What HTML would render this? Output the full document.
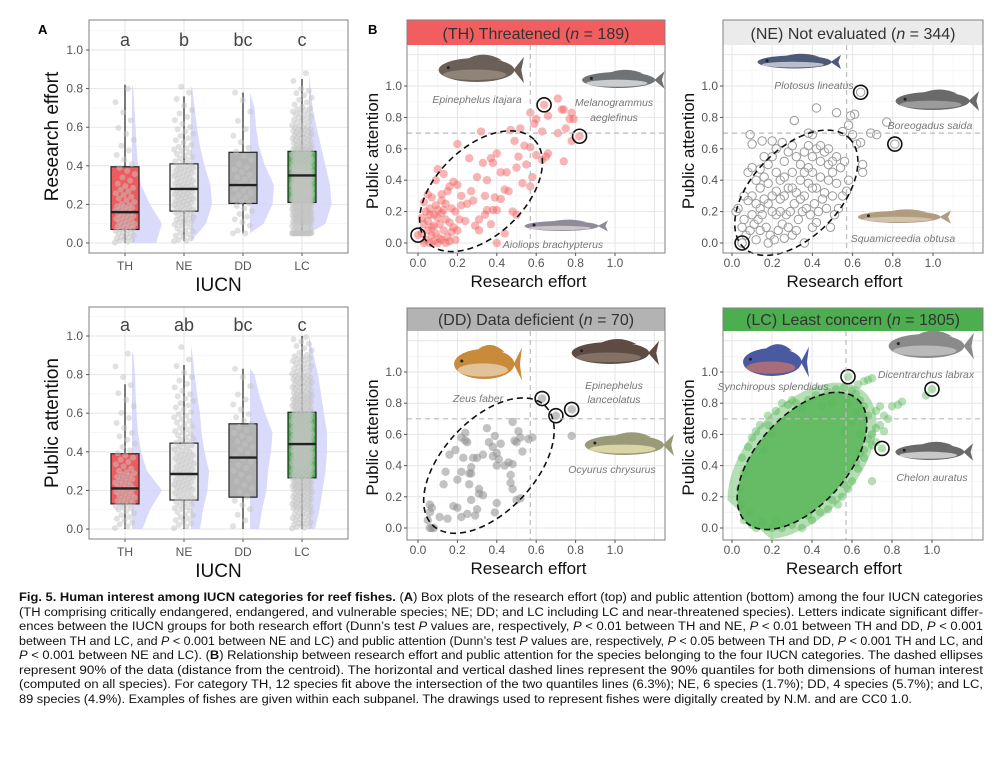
<!DOCTYPE html>
<html><head><meta charset="utf-8"><style>
html,body{margin:0;padding:0;background:#fff;}
svg{display:block;font-family:"Liberation Sans",sans-serif;}
</style></head><body>
<svg id="fig" width="1000" height="757" viewBox="0 0 1000 757">
<text x="38" y="34" font-size="13" font-weight="bold">A</text>
<text x="368" y="34" font-size="13" font-weight="bold">B</text>
<g id="caption" font-family="'Liberation Sans Narrow','Liberation Sans',sans-serif" font-size="12.3" fill="#111">
<text x="19" y="601" textLength="964" lengthAdjust="spacingAndGlyphs"><tspan font-weight="bold">Fig. 5. Human interest among IUCN categories for reef fishes.</tspan> (<tspan font-weight="bold">A</tspan>) Box plots of the research effort (top) and public attention (bottom) among the four IUCN categories</text>
<text x="19" y="616" textLength="964" lengthAdjust="spacingAndGlyphs">(TH comprising critically endangered, endangered, and vulnerable species; NE; DD; and LC including LC and near-threatened species). Letters indicate significant differ-</text>
<text x="19" y="630" textLength="964" lengthAdjust="spacingAndGlyphs">ences between the IUCN groups for both research effort (Dunn’s test <tspan font-style="italic">P</tspan> values are, respectively, <tspan font-style="italic">P</tspan> &lt; 0.01 between TH and NE, <tspan font-style="italic">P</tspan> &lt; 0.01 between TH and DD, <tspan font-style="italic">P</tspan> &lt; 0.001</text>
<text x="19" y="645" textLength="964" lengthAdjust="spacingAndGlyphs">between TH and LC, and <tspan font-style="italic">P</tspan> &lt; 0.001 between NE and LC) and public attention (Dunn’s test <tspan font-style="italic">P</tspan> values are, respectively, <tspan font-style="italic">P</tspan> &lt; 0.05 between TH and DD, <tspan font-style="italic">P</tspan> &lt; 0.001 TH and LC, and</text>
<text x="19" y="659" textLength="964" lengthAdjust="spacingAndGlyphs"><tspan font-style="italic">P</tspan> &lt; 0.001 between NE and LC). (<tspan font-weight="bold">B</tspan>) Relationship between research effort and public attention for the species belonging to the four IUCN categories. The dashed ellipses</text>
<text x="19" y="674" textLength="964" lengthAdjust="spacingAndGlyphs">represent 90% of the data (distance from the centroid). The horizontal and vertical dashed lines represent the 90% quantiles for both dimensions of human interest</text>
<text x="19" y="688" textLength="964" lengthAdjust="spacingAndGlyphs">(computed on all species). For category TH, 12 species fit above the intersection of the two quantiles lines (6.3%); NE, 6 species (1.7%); DD, 4 species (5.7%); and LC,</text>
<text x="19" y="703" textLength="893" lengthAdjust="spacingAndGlyphs">89 species (4.9%). Examples of fishes are given within each subpanel. The drawings used to represent fishes were digitally created by N.M. and are CC0 1.0.</text>
</g>
</svg>
<script>
// ===== Panel A data =====
const categories = ['TH','NE','DD','LC'];
const reLo  = [0.00, 0.01, 0.05, 0.05];
const reQ1  = [0.07, 0.165, 0.205, 0.21];
const reMed = [0.16, 0.28, 0.30, 0.35];
const reQ3  = [0.395, 0.41, 0.47, 0.475];
const reHi  = [0.82, 0.76, 0.78, 0.85];
const reLetters = ['a','b','bc','c'];
const reDensTH = [0.8,1.0,0.6,0.3,0.2,0.15,0.12,0.08,0.04,0,0];
const reDensNE = [0.3,0.5,0.7,0.65,0.45,0.3,0.2,0.12,0.05,0,0];
const reDensDD = [0.2,0.45,0.75,0.8,0.5,0.3,0.2,0.15,0.1,0,0];
const reDensLC = [0.25,0.55,0.75,0.7,0.55,0.4,0.25,0.12,0.05,0,0];
const paLo  = [0.00, 0.00, 0.00, 0.00];
const paQ1  = [0.13, 0.15, 0.165, 0.265];
const paMed = [0.21, 0.285, 0.37, 0.44];
const paQ3  = [0.39, 0.445, 0.545, 0.605];
const paHi  = [0.75, 0.85, 0.83, 1.00];
const paMax = [0.92, 0.95, 0.83, 1.00];
const reMax = [0.82, 0.81, 0.78, 0.88];
const paLetters = ['a','ab','bc','c'];
const paDensTH = [0.35,0.6,1.0,0.5,0.3,0.2,0.15,0.12,0.1,0.05,0];
const paDensNE = [0.3,0.4,0.55,0.6,0.45,0.35,0.3,0.2,0.12,0.05,0];
const paDensDD = [0.3,0.4,0.55,0.6,0.7,0.75,0.5,0.3,0.15,0.05,0];
const paDensLC = [0.2,0.35,0.45,0.55,0.6,0.6,0.5,0.4,0.3,0.15,0.05];
const nPoints = [70,110,40,350];
const yTicks = [0,0.2,0.4,0.6,0.8,1.0];
const yTickLabels = ['0.0','0.2','0.4','0.6','0.8','1.0'];
const xTicks = [0,0.2,0.4,0.6,0.8,1.0];

// ===== Panel B data =====
const thX = [.57,.60,.59,.71,.74,.73,.78,.77,.79,.75,.66,.63,.71,.78,.74,.66,.63,.65,.60,.57,.52,.47,.49,.54,.51,.55,.58,.57,.53,.50,.45,.42,.40,.38,.37,.33,.35,.30,.26,.20,.32,.44,.46,.42,.39,.34,.35,.38,.34,.31,.37,.40,.48,.50,.44,.40,.29,.31,.28,.27,.25,.24,.22,.20,.18,.16,.15,.13,.10,.12,.09,.07,.05,.03,.02,.04,.06,.08,.10,.12,.14,.17,.19,.21,.03,.05,.07,.09,.11,.13,.15,.17,.19,.04,.06,.08,.10,.12,.14,.16,.02,.05,.08,.11,.14,.06,.09,.12,.16,.18,.20,.22,.03,.07,.10,.13];
const thY = [.83,.79,.76,.92,.85,.85,.83,.79,.79,.73,.81,.71,.70,.65,.52,.57,.53,.55,.56,.61,.73,.72,.65,.62,.55,.50,.42,.36,.38,.48,.45,.45,.57,.51,.54,.51,.40,.42,.54,.63,.71,.34,.33,.28,.29,.30,.21,.21,.18,.15,.12,.21,.20,.18,.06,0,.11,.08,.27,.33,.25,.14,.30,.37,.39,.36,.33,.44,.47,.31,.40,.29,.31,.26,.16,.20,.22,.18,.21,.19,.25,.22,.20,.15,.12,.08,.05,.06,.03,.08,.04,.07,.02,.02,0,.01,0,.02,0,.01,.06,.14,.11,.12,.15,.18,.24,.27,.13,.10,.08,.24,0,.10,.16,.21];
const thHX = [0.0, 0.64, 0.82];
const thHY = [0.05, 0.88, 0.68];

const neX = [.42,.52,.61,.59,.31,.77,.58,.69,.72,.55,.60,.40,.38,.09,.10,.15,.20,.25,.62,.64,.65,.65,.02,.03,.06,.36,.40,.42,
 .08,.10,.12,.14,.16,.18,.20,.22,.24,.26,.28,.30,.32,.34,.36,.38,.40,.42,.44,.46,.48,.50,.52,.54,.56,.58,.57,.55,.52,.50,.48,.46,.44,.42,.40,.38,.36,.34,.32,.30,.28,.26,.24,.22,.20,.18,.16,.14,.12,.10,.08,.06,.05,.07,.09,.11,.13,.15,.17,.19,.21,.23,.25,.27,.29,.31,.33,.35,.37,.39,.41,.43,.45,.47,.49,.51,.53,.30,.28,.26,.18,.22,.20,.14,.12,.10,.24,.32,.34,.38,.44,.48,.36,.26,.18,.22,.16,.14,.30,.40,.50];
const neY = [.86,.83,.82,.81,.78,.77,.75,.70,.69,.71,.69,.69,.70,.69,.63,.65,.65,.64,.63,.64,.50,.45,.20,.22,.15,.00,.10,.13,
 .45,.48,.40,.35,.42,.50,.55,.45,.40,.52,.58,.62,.55,.50,.58,.62,.55,.60,.52,.58,.50,.45,.55,.48,.52,.40,.33,.30,.38,.30,.40,.32,.42,.35,.45,.38,.30,.40,.32,.45,.35,.30,.28,.33,.30,.25,.28,.22,.25,.30,.27,.30,.10,.05,.08,.12,.15,.18,.10,.05,.02,.08,.12,.18,.20,.25,.15,.20,.22,.18,.25,.20,.28,.22,.10,.18,.22,.05,.10,.03,.00,.18,.20,.08,.02,.18,.20,.08,.28,.48,.62,.60,.45,.42,.38,.60,.55,.47,.35,.35,.52];
const neHX = [0.64, 0.81, 0.05];
const neHY = [0.96, 0.63, 0.00];

const ddX = [.58,.56,.53,.52,.51,.50,.49,.48,.46,.48,.47,.47,.48,.50,.52,.42,.41,.40,.40,.38,.38,.36,.35,.39,.33,.31,.31,.30,.29,.27,.26,.27,.26,.27,.28,.24,.24,.25,.22,.19,.20,.22,.23,.16,.14,.13,.11,.15,.18,.20,.22,.25,.06,.07,.06,.05,.06,.07,.08,.40,.39,.78,.30,.33,.44];
const ddY = [.58,.57,.49,.58,.62,.55,.56,.68,.42,.41,.34,.29,.25,.18,.19,.54,.44,.48,.40,.46,.52,.55,.64,.59,.47,.25,.22,.12,.08,.18,.28,.35,.35,.39,.45,.61,.56,.55,.58,.50,.31,.36,.45,.47,.36,.28,.07,.06,.14,.13,.07,.09,.15,.13,.10,.05,.00,.00,.00,.16,.10,.59,.45,.21,.40];
const ddHX = [0.63, 0.70, 0.78];
const ddHY = [0.83, 0.72, 0.76];

const lcX = [.97,.85,.83,.80,.74,.72,.76,.78,.74,.72,.76,.70,.68,.72,.70,.66,.64,.66,.62,.63,.70,.60,.58,.55,.53,.48,.44,.40,.35,.30,.25,.20,.12,.10,.06,.05,.04,.06,.05,.08,.10,.12,.14,.18,.22,.28,.30,.25,.32,.38,.42,.48,.52,.56,.60,.63,.66,.68,.70,.62,.64,.66,.68,.62,.58,.60,.64,.56,.20,.18,.16,.45,.50,.35,.09,.15,.22,.38,.50,.56];
const lcY = [.85,.81,.79,.78,.78,.75,.72,.70,.66,.64,.62,.60,.57,.55,.53,.50,.48,.45,.42,.38,.30,.30,.25,.20,.15,.12,.10,.05,.00,.02,.00,.00,.00,.02,.05,.15,.25,.35,.45,.52,.58,.62,.66,.72,.75,.79,.82,.80,.80,.82,.85,.87,.89,.90,.88,.92,.94,.95,.96,.86,.82,.78,.72,.74,.80,.68,.60,.62,.60,.66,.50,.78,.80,.77,.10,.04,.05,.08,.18,.28];
const lcHX = [0.58, 1.0, 0.75];
const lcHY = [0.97, 0.89, 0.51];

const quantX = 0.57;
const quantY = 0.70;

// ===== helpers =====
const NS = 'http://www.w3.org/2000/svg';
const svg = document.getElementById('fig');
function mk(tag, attrs, parent) {
  const e = document.createElementNS(NS, tag);
  for (const k in attrs) e.setAttribute(k, attrs[k]);
  (parent || svg).appendChild(e);
  return e;
}
function txt(s, attrs, parent) { const t = mk('text', attrs, parent); t.textContent = s; return t; }

// ===== Box panels =====
function drawBoxPanel(P, lo, q1, med, q3, hi, mx, dens, letters, yTitle, key) {
  const g = mk('g', {});
  
  
  const yS = v => P.y0 - v * (P.y0 - P.y1);
  const xC = i => P.cx0 + P.dx * i;
  const bg = mk('rect', {x:P.left, y:P.top, width:P.right-P.left, height:P.bottom-P.top, fill:'#fff'}, g);
  
  
  for (let v = 0.1; v < 1.15; v += 0.2) mk('line', {x1:P.left, x2:P.right, y1:yS(v), y2:yS(v), stroke:'#f3f3f3', 'stroke-width':0.7}, g);
  yTicks.forEach(v => mk('line', {x1:P.left, x2:P.right, y1:yS(v), y2:yS(v), stroke:'#e6e6e6', 'stroke-width':1}, g));
  categories.forEach((c, i) => mk('line', {x1:xC(i), x2:xC(i), y1:P.top, y2:P.bottom, stroke:'#e6e6e6', 'stroke-width':1}, g));
  categories.forEach((c, i) => {
    const d = dens[i];
    const base = xC(i) + 7;
    let path = 'M' + base + ',' + yS(lo[i]);
    for (let k = 0; k < d.length; k++) {
      const v = k * 0.1;
      if (v < lo[i] || v >= mx[i]) continue;
      path += ' L' + (base + d[k] * 30).toFixed(1) + ',' + yS(v).toFixed(1);
    }
    path += ' L' + base + ',' + yS(mx[i]) + 'Z';
    const v = mk('path', {d:path, fill:'#d4d4fa', opacity:0.85}, g);
    
    
  });
  const fills = ['#f15a5c','#efefef','#b3b3b3','#4cae4f'];
  categories.forEach((c, i) => {
    const w = mk('line', {x1:xC(i), x2:xC(i), y1:yS(lo[i]), y2:yS(hi[i]), stroke:'#222', 'stroke-width':1.2}, g);
    
    
    const b = mk('rect', {x:xC(i)-14, y:yS(q3[i]), width:28, height:yS(q1[i])-yS(q3[i]), fill:fills[i], stroke:'#222', 'stroke-width':1.2}, g);
    
    
    const d = dens[i];
    let cum = [0];
    for (let k = 1; k < d.length; k++) cum.push(cum[k-1] + (d[k-1] + d[k]) / 2);
    const tot = cum[cum.length-1];
    const N = nPoints[i];
    for (let j = 0; j < N; j++) {
      const p = (j + 0.5) / N * tot;
      let k = 1; while (k < cum.length - 1 && cum[k] < p) k++;
      const f = (p - cum[k-1]) / Math.max(cum[k] - cum[k-1], 1e-6);
      const val = Math.min(mx[i], Math.max(lo[i], (k - 1 + f) * 0.1));
      const jit = (((j * 0.618034) % 1) - 0.5) * 20;
      const pt = mk('circle', {cx:xC(i) + jit, cy:yS(val), r:3, fill:'#c4c4c4', 'fill-opacity':0.5}, g);
      
      
    }
    const m = mk('line', {x1:xC(i)-14, x2:xC(i)+14, y1:yS(med[i]), y2:yS(med[i]), stroke:'#222', 'stroke-width':2.4}, g);
    
    
    const l = txt(letters[i], {x:xC(i), y:P.letterY, 'font-size':18, fill:'#444', 'text-anchor':'middle'}, g);
    
    
    const cl = txt(c, {x:xC(i), y:P.bottom + 17, 'font-size':12, fill:'#555', 'text-anchor':'middle'}, g);
    
    
    mk('line', {x1:xC(i), x2:xC(i), y1:P.bottom, y2:P.bottom+3, stroke:'#555'}, g);
  });
  const br = mk('rect', {x:P.left, y:P.top, width:P.right-P.left, height:P.bottom-P.top, fill:'none', stroke:'#808080', 'stroke-width':1}, g);
  
  
  yTicks.forEach((v, k) => {
    mk('line', {x1:P.left-3, x2:P.left, y1:yS(v), y2:yS(v), stroke:'#555'}, g);
    const t = txt(yTickLabels[k], {x:P.left-6, y:yS(v)+4, 'font-size':12, fill:'#555', 'text-anchor':'end'}, g);
    
    
  });
  const yt = txt(yTitle, {x:0, y:0, 'font-size':19, fill:'#111', 'text-anchor':'middle', transform:'translate(' + (P.left-31) + ',' + ((P.top+P.bottom)/2) + ') rotate(-90)'}, g);
  
  
  const xt = txt('IUCN', {x:(P.left+P.right)/2, y:P.bottom + 38, 'font-size':19, fill:'#111', 'text-anchor':'middle'}, g);
  
  
}
drawBoxPanel({left:89,right:348,top:20,bottom:253,y0:243,y1:50,cx0:125,dx:59,letterY:46},
  reLo, reQ1, reMed, reQ3, reHi, reMax, [reDensTH,reDensNE,reDensDD,reDensLC], reLetters, 'Research effort', 'research-effort');
drawBoxPanel({left:89,right:348,top:307,bottom:539,y0:529,y1:336,cx0:125,dx:59,letterY:331},
  paLo, paQ1, paMed, paQ3, paHi, paMax, [paDensTH,paDensNE,paDensDD,paDensLC], paLetters, 'Public attention', 'public-attention');

// ===== Fish icons =====
function fish(g, cx, cy, w, h, body, belly, name) {
  const f = mk('g', {}, g);
  
  
  mk('path', {d:'M'+(cx+w*0.38)+','+cy+' L'+(cx+w*0.5)+','+(cy-h*0.55)+' L'+(cx+w*0.47)+','+cy+' L'+(cx+w*0.5)+','+(cy+h*0.55)+'Z', fill:body}, f);
  mk('ellipse', {cx:cx-w*0.04, cy:cy, rx:w*0.43, ry:h/2, fill:body}, f);
  mk('ellipse', {cx:cx-w*0.06, cy:cy+h*0.2, rx:w*0.36, ry:h*0.22, fill:belly, opacity:0.8}, f);
  mk('path', {d:'M'+(cx-w*0.15)+','+(cy-h*0.45)+' Q'+(cx+w*0.05)+','+(cy-h*0.85)+' '+(cx+w*0.25)+','+(cy-h*0.4)+'Z', fill:body}, f);
  mk('circle', {cx:cx-w*0.36, cy:cy-h*0.1, r:1.5, fill:'#222'}, f);
}
function label(g, s, x, y, name) {
  const t = txt(s, {x:x, y:y, 'font-size':10.5, 'font-style':'italic', fill:'#777', 'text-anchor':'middle'}, g);
  
  
}

// ===== Scatter panels =====
function drawScatter(P, xs, ys, hx, hy, sty, ell, title, strip, key) {
  const g = mk('g', {});
  
  
  const xS = v => P.x0 + v * (P.x1 - P.x0);
  const yS = v => P.y0 - v * (P.y0 - P.y1);
  const cid = 'clip-' + key;
  const cp = mk('clipPath', {id:cid}, g);
  mk('rect', {x:P.left, y:P.top, width:P.right-P.left, height:P.bottom-P.top}, cp);
  mk('rect', {x:P.left, y:P.top, width:P.right-P.left, height:P.bottom-P.top, fill:'#fff'}, g);
  for (let v = 0.1; v < 1.3; v += 0.2) {
    mk('line', {x1:P.left, x2:P.right, y1:yS(v), y2:yS(v), stroke:'#f3f3f3', 'stroke-width':0.7, 'clip-path':'url(#'+cid+')'}, g);
    mk('line', {x1:xS(v), x2:xS(v), y1:P.top, y2:P.bottom, stroke:'#f3f3f3', 'stroke-width':0.7, 'clip-path':'url(#'+cid+')'}, g);
  }
  for (let v = 0; v < 1.3; v += 0.2) {
    mk('line', {x1:P.left, x2:P.right, y1:yS(v), y2:yS(v), stroke:'#e6e6e6', 'stroke-width':1, 'clip-path':'url(#'+cid+')'}, g);
    mk('line', {x1:xS(v), x2:xS(v), y1:P.top, y2:P.bottom, stroke:'#e6e6e6', 'stroke-width':1, 'clip-path':'url(#'+cid+')'}, g);
  }
  const ecx = xS(ell.cx), ecy = yS(ell.cy);
  if (sty.cloud) {
    const halo = mk('ellipse', {cx:ecx, cy:ecy, rx:ell.a+10, ry:ell.b+10, transform:'rotate('+ell.ang+' '+ecx+' '+ecy+')', fill:sty.cloud, 'fill-opacity':0.45, 'clip-path':'url(#'+cid+')'}, g);
    
    
    const cl = mk('ellipse', {cx:ecx, cy:ecy, rx:ell.a, ry:ell.b, transform:'rotate('+ell.ang+' '+ecx+' '+ecy+')', fill:sty.cloud, 'fill-opacity':0.9}, g);
    
    
  }
  xs.forEach((x, i) => {
    const c = mk('circle', {cx:xS(x), cy:yS(ys[i]), r:4.2, fill:sty.fill, 'fill-opacity':sty.op, stroke:sty.stroke, 'stroke-width':sty.sw}, g);
    
    
  });
  hx.forEach((x, i) => {
    const c = mk('circle', {cx:xS(x), cy:yS(hy[i]), r:4.2, fill:sty.fill, 'fill-opacity':sty.op, stroke:sty.stroke, 'stroke-width':sty.sw}, g);
    
    
    const r = mk('circle', {cx:xS(x), cy:yS(hy[i]), r:7, fill:'none', stroke:'#111', 'stroke-width':1.6}, g);
    
    
  });
  const ql = mk('line', {x1:xS(quantX), x2:xS(quantX), y1:P.top, y2:P.bottom, stroke:'#bbb', 'stroke-width':1.2, 'stroke-dasharray':'5,4'}, g);
  
  
  const qh = mk('line', {x1:P.left, x2:P.right, y1:yS(quantY), y2:yS(quantY), stroke:'#bbb', 'stroke-width':1.2, 'stroke-dasharray':'5,4'}, g);
  
  
  const el = mk('ellipse', {cx:ecx, cy:ecy, rx:ell.a, ry:ell.b, transform:'rotate('+ell.ang+' '+ecx+' '+ecy+')', fill:'none', stroke:'#111', 'stroke-width':1.6, 'stroke-dasharray':'6,4'}, g);
  
  
  const br = mk('rect', {x:P.left, y:P.stripTop, width:P.right-P.left, height:P.bottom-P.stripTop, fill:'none', stroke:'#808080', 'stroke-width':1}, g);
  
  
  const sr = mk('rect', {x:P.left+0.5, y:P.stripTop+0.5, width:P.right-P.left-1, height:P.top-P.stripTop-0.5, fill:strip}, g);
  
  
  const st = mk('text', {x:(P.left+P.right)/2, y:P.top-6, 'font-size':16, fill:'#333', 'text-anchor':'middle'}, g);
  
  
  st.innerHTML = title[0] + ' (<tspan font-style="italic">n</tspan> = ' + title[1] + ')';
  xTicks.forEach((v, k) => {
    mk('line', {x1:P.left-3, x2:P.left, y1:yS(v), y2:yS(v), stroke:'#555'}, g);
    mk('line', {x1:xS(v), x2:xS(v), y1:P.bottom, y2:P.bottom+3, stroke:'#555'}, g);
    const ty = txt(yTickLabels[k], {x:P.left-5, y:yS(v)+4, 'font-size':12, fill:'#555', 'text-anchor':'end'}, g);
    
    
    const tx = txt(yTickLabels[k], {x:xS(v), y:P.bottom+14, 'font-size':12, fill:'#555', 'text-anchor':'middle'}, g);
    
    
  });
  const yt = txt('Public attention', {x:0, y:0, 'font-size':17, fill:'#111', 'text-anchor':'middle', transform:'translate(' + (P.left-29) + ',' + ((P.top+P.bottom)/2 + 2) + ') rotate(-90)'}, g);
  
  
  const xt = txt('Research effort', {x:(P.x0+P.x1)/2 + 12, y:P.bottom + 34, 'font-size':17, fill:'#111', 'text-anchor':'middle'}, g);
  
  
  return g;
}

const gTH = drawScatter({left:407,right:665,stripTop:20,top:45,bottom:253,x0:418,x1:615,y0:243,y1:86},
  thX, thY, thHX, thHY, {fill:'#f25a5c', op:0.45, stroke:'none', sw:0},
  {cx:0.32, cy:0.33, a:74, b:44, ang:-44}, ['(TH) Threatened', '189'], '#f25e60', 'threatened');
fish(gTH, 480, 70, 88, 24, '#6b6058', '#9a8c80', 'fish-epinephelus-itajara');
label(gTH, 'Epinephelus itajara', 477, 103, 'species-label');
fish(gTH, 622, 80, 85, 16, '#6f7378', '#e2e2e2', 'fish-melanogrammus-aeglefinus');
label(gTH, 'Melanogrammus', 614, 106, 'species-label');
label(gTH, 'aeglefinus', 614, 121, 'species-label');
fish(gTH, 565, 226, 86, 10, '#8f8a9c', '#d8d4d0', 'fish-aioliops-brachypterus');
label(gTH, 'Aioliops brachypterus', 553, 248, 'species-label');

const gNE = drawScatter({left:723,right:983,stripTop:20,top:45,bottom:253,x0:732,x1:933,y0:243,y1:86},
  neX, neY, neHX, neHY, {fill:'#ffffff', op:0.2, stroke:'#9a9a9a', sw:1},
  {cx:0.32, cy:0.32, a:76, b:44, ang:-46}, ['(NE) Not evaluated', '344'], '#ebebeb', 'not-evaluated');
fish(gNE, 798, 62, 86, 13, '#4d5a78', '#d6d6e0', 'fish-plotosus-lineatus');
label(gNE, 'Plotosus lineatus', 814, 89, 'species-label');
fish(gNE, 936, 101, 86, 18, '#6a6a6a', '#a8a8a8', 'fish-boreogadus-saida');
label(gNE, 'Boreogadus saida', 930, 129, 'species-label');
fish(gNE, 903, 217, 96, 12, '#b09d80', '#d8ccb8', 'fish-squamicreedia-obtusa');
label(gNE, 'Squamicreedia obtusa', 903, 242, 'species-label');

const gDD = drawScatter({left:407,right:665,stripTop:308,top:331,bottom:540,x0:418,x1:615,y0:528,y1:372},
  ddX, ddY, ddHX, ddHY, {fill:'#8f8f8f', op:0.55, stroke:'none', sw:0},
  {cx:0.36, cy:0.40, a:82, b:46, ang:-47}, ['(DD) Data deficient', '70'], '#b3b3b3', 'data-deficient');
fish(gDD, 487, 364, 70, 30, '#c98a3a', '#e8d0b0', 'fish-zeus-faber');
label(gDD, 'Zeus faber', 478, 402, 'species-label');
fish(gDD, 614, 353, 90, 22, '#5e4c44', '#8c7a70', 'fish-epinephelus-lanceolatus');
label(gDD, 'Epinephelus', 614, 389, 'species-label');
label(gDD, 'lanceolatus', 614, 403, 'species-label');
fish(gDD, 628, 445, 92, 20, '#9a9a78', '#e8e4b0', 'fish-ocyurus-chrysurus');
label(gDD, 'Ocyurus chrysurus', 612, 473, 'species-label');

const gLC = drawScatter({left:723,right:983,stripTop:308,top:331,bottom:540,x0:732,x1:932,y0:528,y1:372},
  lcX, lcY, lcHX, lcHY, {fill:'#5cb85c', op:0.45, stroke:'none', sw:0, cloud:'#5cb85c'},
  {cx:0.35, cy:0.43, a:83, b:45, ang:-48}, ['(LC) Least concern', '1805'], '#4cae4f', 'least-concern');
fish(gLC, 775, 362, 68, 28, '#4a5aa0', '#c07070', 'fish-synchiropus-splendidus');
label(gLC, 'Synchiropus splendidus', 773, 390, 'species-label');
fish(gLC, 930, 346, 88, 24, '#8a8a8a', '#c4c4c4', 'fish-dicentrarchus-labrax');
label(gLC, 'Dicentrarchus labrax', 926, 378, 'species-label');
fish(gLC, 933, 452, 80, 16, '#6a6a6a', '#e0e0e0', 'fish-chelon-auratus');
label(gLC, 'Chelon auratus', 932, 481, 'species-label');
</script>
</body></html>
